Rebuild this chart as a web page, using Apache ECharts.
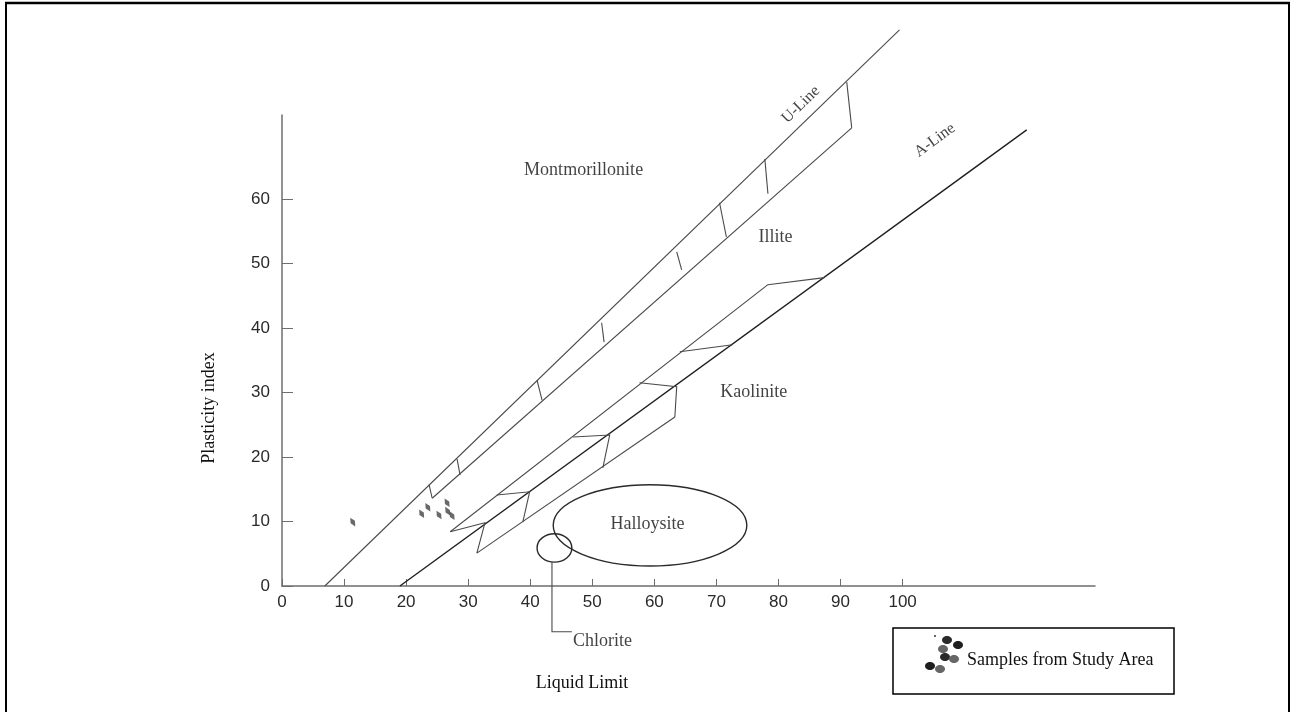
<!DOCTYPE html>
<html>
<head>
<meta charset="utf-8">
<title>Plasticity chart</title>
<script src="https://cdn.jsdelivr.net/npm/echarts@6/dist/echarts.min.js"></script>
<style>
  html, body { margin: 0; padding: 0; background: #fff; }
  #chart { width: 1293px; height: 712px; }
</style>
</head>
<body>
<div id="chart"></div>
<script>
// axis ticks
const xTicks = [0, 10, 20, 30, 40, 50, 60, 70, 80, 90, 100]
const yTicks = [0, 10, 20, 30, 40, 50, 60]

// main lines, [liquid limit, plasticity index]
const uLine = [[6.9, 0], [99.5, 86.2]]
const aLine = [[19.0, 0], [120.0, 70.7]]

// illite band
const illiteLower = [[24.2, 13.6], [91.8, 71.0]]
const illiteTicks = [
  [[23.7, 15.7], [24.2, 13.6]],
  [[28.2, 19.7], [28.7, 17.2]],
  [[41.1, 31.9], [41.9, 28.8]],
  [[51.5, 40.8], [51.9, 37.8]],
  [[63.6, 51.8], [64.4, 49.0]],
  [[70.5, 59.4], [71.6, 54.1]],
  [[77.8, 66.2], [78.3, 60.8]],
  [[91.0, 78.1], [91.8, 71.0]]
]

// kaolinite band
const kaoliniteUpper = [[27.1, 8.4], [78.3, 46.7]]
const kaoliniteLower = [[31.4, 5.1], [63.3, 26.2]]
const kaoliniteTicks = [
  [[27.1, 8.4], [32.7, 9.8], [31.4, 5.1]],
  [[34.6, 14.1], [39.9, 14.6], [38.8, 9.9]],
  [[46.9, 23.1], [52.8, 23.4], [51.7, 18.3]],
  [[57.6, 31.5], [63.6, 30.9], [63.3, 26.2]],
  [[64.1, 36.3], [72.6, 37.4]],
  [[78.3, 46.7], [87.4, 47.8]]
]

// ellipses: [centre LL, centre PI, radius LL, radius PI]
const halloysite = [59.3, 9.4, 15.6, 6.3]
const chlorite = [43.9, 5.9, 2.8, 2.2]
const chloritePointer = [[43.5, 3.7], [43.5, -7.1], [46.7, -7.1]]

// samples from study area
const samples = [
  [11.4, 9.9], [22.5, 11.2], [23.5, 12.2], [25.3, 11.0],
  [26.6, 12.9], [26.7, 11.6], [27.4, 10.9]
]

// region names
const zoneNames = ['Montmorillonite', 'Illite', 'Kaolinite', 'Halloysite', 'U-Line', 'A-Line']
const zonePos = [[48.6, 64.5], [79.5, 54.1], [76.0, 30.1], [58.9, 9.6], [83.6, 74.6], [105.2, 69.1]]
const zoneRotate = [0, 0, 0, 0, 44, 36]

const serif = '"Liberation Serif", "DejaVu Serif", serif'

function seg(list, color, width) {
  return {
    type: 'lines',
    coordinateSystem: 'cartesian2d',
    polyline: true,
    clip: false,
    silent: true,
    lineStyle: {color: color, width: width, opacity: 1},
    data: list.map(c => ({coords: c}))
  }
}

let option = {
  animation: false,
  backgroundColor: '#fff',
  grid: {
    left: 282,
    right: 198,
    top: 115,
    bottom: 126
  },
  xAxis: {
    type: 'value',
    min: 0,
    max: 131,
    interval: 10,
    splitLine: {show: false},
    axisLine: {lineStyle: {color: '#6e6e6e', width: 1.5}},
    axisTick: {inside: true, length: 7, customValues: xTicks, lineStyle: {color: '#6e6e6e'}},
    axisLabel: {
      customValues: xTicks,
      margin: 8,
      color: '#2a2a2a',
      fontSize: 17,
      fontFamily: '"Liberation Sans", Arial, sans-serif'
    }
  },
  yAxis: {
    type: 'value',
    min: 0,
    max: 73,
    interval: 10,
    splitLine: {show: false},
    axisLine: {show: true, lineStyle: {color: '#6e6e6e', width: 1.5}},
    axisTick: {show: true, inside: true, length: 11, customValues: yTicks, lineStyle: {color: '#6e6e6e'}},
    axisLabel: {
      customValues: yTicks,
      margin: 12,
      color: '#2a2a2a',
      fontSize: 17,
      fontFamily: '"Liberation Sans", Arial, sans-serif'
    }
  },
  series: [
    seg([uLine], '#4a4a4a', 1.1),
    seg([aLine], '#1e1e1e', 1.4),
    seg([illiteLower], '#4a4a4a', 1.1),
    seg(illiteTicks, '#4a4a4a', 1.1),
    seg([kaoliniteUpper], '#4a4a4a', 1.1),
    seg([kaoliniteLower], '#4a4a4a', 1.1),
    seg(kaoliniteTicks, '#4a4a4a', 1.1),
    seg([chloritePointer], '#4a4a4a', 1.1),
    {
      type: 'custom',
      silent: true,
      data: [halloysite, chlorite],
      renderItem: function (params, api) {
        let c = api.coord([api.value(0), api.value(1)])
        let e = api.coord([api.value(0) + api.value(2), api.value(1) + api.value(3)])
        return {
          type: 'ellipse',
          shape: {cx: c[0], cy: c[1], rx: e[0] - c[0], ry: c[1] - e[1]},
          style: {fill: 'none', stroke: '#2a2a2a', lineWidth: 1.4}
        }
      }
    },
    {
      type: 'scatter',
      silent: true,
      symbol: 'diamond',
      symbolSize: [5, 10],
      symbolRotate: 30,
      itemStyle: {color: '#444'},
      data: samples
    },
    {
      type: 'scatter',
      silent: true,
      clip: false,
      symbolSize: 0,
      label: {
        show: true,
        position: 'inside',
        formatter: '{b}',
        color: '#111',
        fontSize: 18,
        fontFamily: serif
      },
      data: zoneNames.map((n, i) => ({
        name: n,
        value: zonePos[i],
        label: zoneRotate[i] ? {rotate: zoneRotate[i], fontSize: 16} : {}
      }))
    },
    {
      type: 'scatter',
      silent: true,
      clip: false,
      symbolSize: 0,
      label: {
        show: true,
        position: 'right',
        distance: 0,
        formatter: '{b}',
        color: '#111',
        fontSize: 18,
        fontFamily: serif
      },
      data: [{name: 'Chlorite', value: [46.9, -8.5]}]
    }
  ],
  graphic: [
    // outer frame
    {type: 'line', shape: {x1: 5, y1: 3, x2: 1290, y2: 3}, style: {stroke: '#000', lineWidth: 2.5}},
    {type: 'line', shape: {x1: 6, y1: 3, x2: 6, y2: 712}, style: {stroke: '#000', lineWidth: 2}},
    {type: 'line', shape: {x1: 1289, y1: 3, x2: 1289, y2: 712}, style: {stroke: '#000', lineWidth: 2}},
    // axis titles
    {
      type: 'text', x: 582, y: 683,
      style: {text: 'Liquid Limit', fill: '#111', font: '18px ' + serif, align: 'center', verticalAlign: 'middle'}
    },
    {
      type: 'text', x: 209, y: 408, rotation: Math.PI / 2,
      style: {text: 'Plasticity index', fill: '#111', font: '18px ' + serif, align: 'center', verticalAlign: 'middle'}
    },
    // legend box
    {type: 'rect', shape: {x: 893, y: 628, width: 281, height: 66}, style: {fill: '#fff', stroke: '#000', lineWidth: 1.5}},
    {
      type: 'group',
      children: [
        {type: 'ellipse', shape: {cx: 947, cy: 640, rx: 5, ry: 4}, style: {fill: '#2a2a2a'}},
        {type: 'ellipse', shape: {cx: 943, cy: 649, rx: 5, ry: 4}, style: {fill: '#666'}},
        {type: 'ellipse', shape: {cx: 958, cy: 645, rx: 5, ry: 4}, style: {fill: '#1e1e1e'}},
        {type: 'ellipse', shape: {cx: 945, cy: 657, rx: 5, ry: 4}, style: {fill: '#2a2a2a'}},
        {type: 'ellipse', shape: {cx: 954, cy: 659, rx: 5, ry: 4}, style: {fill: '#666'}},
        {type: 'ellipse', shape: {cx: 930, cy: 666, rx: 5, ry: 4}, style: {fill: '#1e1e1e'}},
        {type: 'ellipse', shape: {cx: 940, cy: 669, rx: 5, ry: 4}, style: {fill: '#666'}},
        {type: 'circle', shape: {cx: 935, cy: 636, r: 1}, style: {fill: '#333'}}
      ]
    },
    {
      type: 'text', x: 967, y: 660,
      style: {text: 'Samples from Study Area', fill: '#111', font: '18px ' + serif, align: 'left', verticalAlign: 'middle'}
    }
  ]
}

let chart = echarts.init(document.getElementById('chart'))
chart.setOption(option, true)
</script>
</body>
</html>
